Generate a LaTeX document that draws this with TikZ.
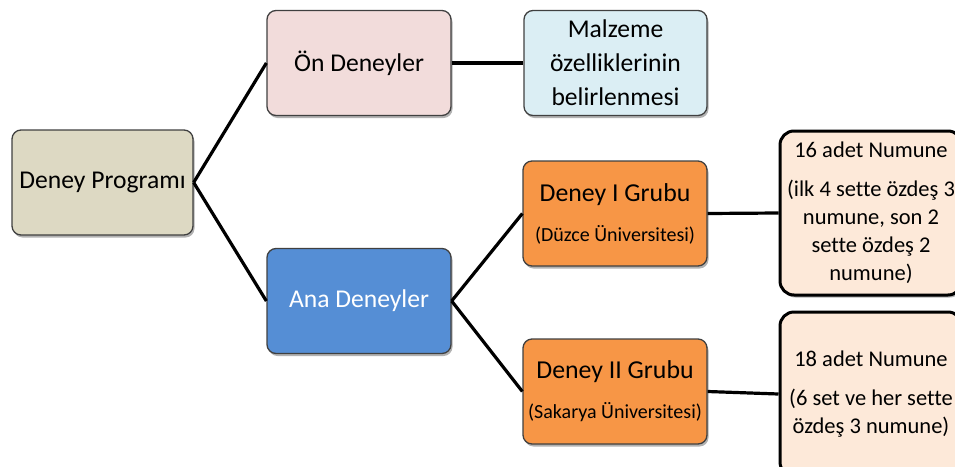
\documentclass[tikz,border=0pt]{standalone}
\usepackage{fontspec}
\setmainfont[Ligatures=NoCommon]{Carlito}
\usetikzlibrary{shadows}
\definecolor{progfill}{HTML}{DDD9C3}
\definecolor{onfill}{HTML}{F2DCDB}
\definecolor{malzfill}{HTML}{DBEEF4}
\definecolor{anafill}{HTML}{558ED5}
\definecolor{grpfill}{HTML}{F79646}
\definecolor{numfill}{HTML}{FDE9D9}
\definecolor{edgegray}{HTML}{404040}
\begin{document}
\begin{tikzpicture}[x=1pt,y=-1pt,
  box/.style={rectangle, rounded corners=9pt, draw=edgegray, line width=1.3pt,
    align=center, inner sep=2pt, text=black,
    drop shadow={shadow xshift=1.5pt, shadow yshift=-2.5pt, opacity=0.3, fill=black}},
  mainbox/.style={box, minimum width=183pt, minimum height=105pt,
    font=\fontsize{25.6}{34}\selectfont},
  grpbox/.style={box, fill=grpfill, minimum width=184pt, minimum height=105pt,
    font=\fontsize{25.8}{40}\selectfont},
  numbox/.style={box, draw=black, line width=3pt, rounded corners=14pt, fill=numfill,
    minimum width=182pt, minimum height=164pt, font=\fontsize{22.5}{28}\selectfont},
  conn/.style={line width=3.2pt, draw=black}]
\useasboundingbox (0,0) rectangle (955,466);
\node[mainbox, fill=progfill, minimum width=181pt] (prog) at (102.5,182.5) {Deney Programı};
\node[mainbox, fill=onfill, minimum width=184pt] (on) at (359,63) {Ön Deneyler};
\node[mainbox, fill=malzfill] (malz) at (615.5,63) {Malzeme\\özelliklerinin\\belirlenmesi};
\node[mainbox, fill=anafill, minimum width=184pt, text=white] (ana) at (359,301) {Ana Deneyler};
\node[grpbox] (g1) at (615,213.5) {Deney I Grubu\\{\fontsize{20}{40}\selectfont (Düzce Üniversitesi)}};
\node[grpbox] (g2) at (615,391.5) {Deney II Grubu\\{\fontsize{20}{40}\selectfont (Sakarya Üniversitesi)}};
\node[numbox] (r1) at (871,213) {16 adet Numune\\[11pt](ilk 4 sette özdeş 3\\numune, son 2\\sette özdeş 2\\numune)};
\node[numbox] (r2) at (871,394) {18 adet Numune\\[11pt](6 set ve her sette\\özdeş 3 numune)};
\draw[conn] (prog.east) -- (on.west);
\draw[conn] (prog.east) -- (ana.west);
\draw[conn] (on.east) -- (malz.west);
\draw[conn] (ana.east) -- (g1.west);
\draw[conn] (ana.east) -- (g2.west);
\draw[conn] (g1.east) -- (r1.west);
\draw[conn] (g2.east) -- (r2.west);
\end{tikzpicture}
\end{document}
